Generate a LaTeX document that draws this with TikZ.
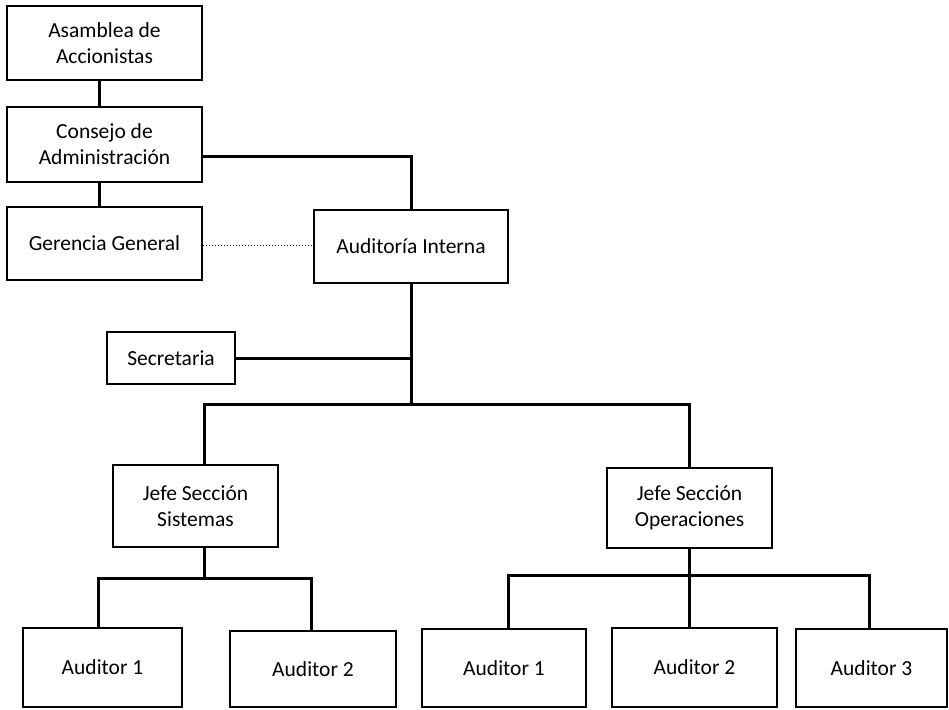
\documentclass[tikz,border=0pt]{standalone}
\usepackage{fontspec}
\setmainfont{Carlito}
\begin{document}
\begin{tikzpicture}[x=1pt,y=-1pt,
  box/.style={draw=black,line width=1.6pt,rectangle,inner sep=0pt,align=center,
    font=\fontsize{21.5}{26}\selectfont},
  link/.style={draw=black,line width=3pt},
  dotlink/.style={draw=black,line width=1pt,dotted}]
\useasboundingbox[fill=white] (0,0) rectangle (949,709);

% boxes: centre, width, height
\node[box,minimum width=195pt,minimum height=74pt] (asamblea) at (104.5,43) {Asamblea de\\Accionistas};
\node[box,minimum width=195pt,minimum height=75pt] (consejo) at (104.5,144.5) {Consejo de\\Administración};
\node[box,minimum width=195pt,minimum height=73pt] (gerencia) at (104.5,243.5) {Gerencia General};
\node[box,minimum width=194pt,minimum height=73pt] (auditoria) at (411,246.5) {Auditoría Interna};
\node[box,minimum width=128pt,minimum height=52pt] (secretaria) at (171,358) {Secretaria};
\node[box,minimum width=165pt,minimum height=82pt] (jefeSis) at (195.5,506) {Jefe Sección\\Sistemas};
\node[box,minimum width=165pt,minimum height=80pt] (jefeOp) at (689.5,508) {Jefe Sección\\Operaciones};
\node[box,minimum width=159pt,minimum height=79pt] (audA) at (102.5,667.5) {Auditor 1};
\node[box,minimum width=166pt,minimum height=76pt] (audB) at (313,669) {Auditor 2};
\node[box,minimum width=164pt,minimum height=78pt] (audC) at (504,668) {Auditor 1};
\node[box,minimum width=165pt,minimum height=79pt] (audD) at (694.5,667.5) {Auditor 2};
\node[box,minimum width=151pt,minimum height=78pt] (audE) at (871.5,668) {Auditor 3};

% positions of the vertical lines and buses
\coordinate (topX) at (99,0);
\coordinate (audX) at (411,0);
\coordinate (busTop) at (411,404);
\coordinate (sisX) at (204,0);
\coordinate (busSis) at (204,578);
\coordinate (busOp) at (689,575);
\coordinate (xA) at (98,0);
\coordinate (xB) at (311,0);
\coordinate (xC) at (508,0);
\coordinate (xD) at (689,0);
\coordinate (xE) at (869,0);

% upper levels
\draw[link] (asamblea.south -| topX) -- (consejo.north -| topX);
\draw[link] (consejo.south -| topX) -- (gerencia.north -| topX);
\draw[link] (consejo.east |- 0,156) -| (auditoria.north -| audX);
\draw[dotlink] (gerencia.east |- 0,245) -- (auditoria.west |- 0,245);
\draw[link] (auditoria.south -| audX) -- (busTop);
\draw[link] (secretaria.east) -- (secretaria.east -| audX);

% section heads
\draw[link] (jefeSis.north -| sisX) |- (busTop) -| (jefeOp.north -| xD);

% auditors under Sistemas
\draw[link] (jefeSis.south -| sisX) -- (busSis);
\draw[link] (audA.north -| xA) |- (busSis) -| (audB.north -| xB);

% auditors under Operaciones
\draw[link] (jefeOp.south -| xD) -- (audD.north -| xD);
\draw[link] (audC.north -| xC) |- (busOp) -| (audE.north -| xE);
\end{tikzpicture}
\end{document}
